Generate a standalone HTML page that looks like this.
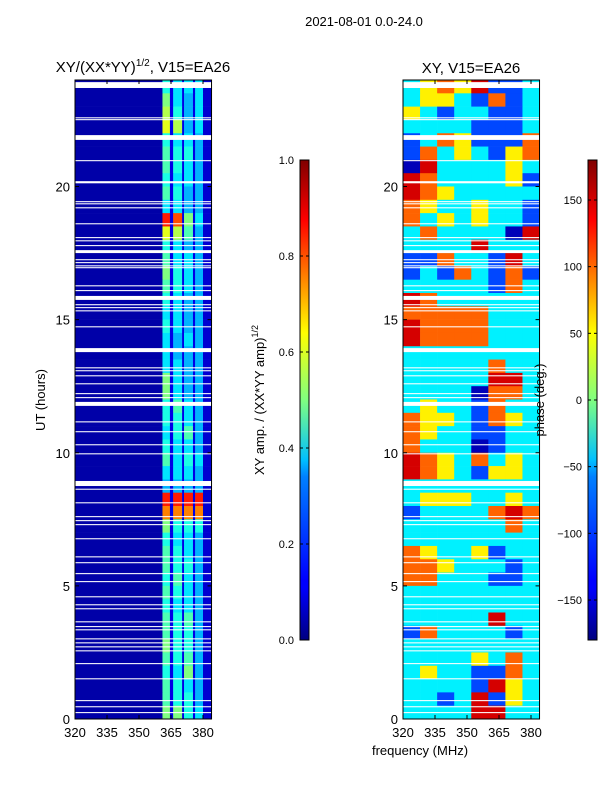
<!DOCTYPE html>
<html><head><meta charset="utf-8"><style>
body{margin:0;background:#fff}
svg{display:block;font-family:"Liberation Sans",sans-serif}
</style></head><body>
<svg id="fig" width="600" height="800" viewBox="0 0 600 800" xmlns="http://www.w3.org/2000/svg">
<defs>
<linearGradient id="jetv" x1="0" y1="1" x2="0" y2="0">
<stop offset="0" stop-color="#000080"/><stop offset="0.11" stop-color="#0000ff"/><stop offset="0.125" stop-color="#0000ff"/><stop offset="0.34" stop-color="#0080ff"/><stop offset="0.375" stop-color="#00c0ff"/><stop offset="0.5" stop-color="#80ff80"/><stop offset="0.64" stop-color="#ffff00"/><stop offset="0.875" stop-color="#ff0000"/><stop offset="1" stop-color="#800000"/>
</linearGradient>
</defs>
<text x="364" y="26" font-size="13" text-anchor="middle">2021-08-01 0.0-24.0</text>
<text x="143" y="72" font-size="15" text-anchor="middle">XY/(XX*YY)<tspan dy="-6" font-size="10">1/2</tspan><tspan dy="6">, V15=EA26</tspan></text>
<text x="471" y="73" font-size="15" text-anchor="middle">XY, V15=EA26</text>
<text transform="translate(45,400) rotate(-90)" font-size="13" text-anchor="middle">UT (hours)</text>
<text x="420" y="755" font-size="13" text-anchor="middle">frequency (MHz)</text>
<text transform="translate(264,400) rotate(-90)" font-size="13" text-anchor="middle">XY amp. / (XX*YY amp)<tspan dy="-6" font-size="9">1/2</tspan></text>
<g id="left"></g>
<g id="right"></g>
<text transform="translate(544,400) rotate(-90)" font-size="13" text-anchor="middle">phase (deg.)</text>
<g id="cbars"></g>
</svg>
<script>
// ---- data ----
const ampBandFreqs = [320, 361, 364.5, 366, 370.2, 371.1, 375.3, 376.3, 380, 384];
const ampBg = [0.04, 0.1, 0.1, 0.1, 0.08];
const ampBands = [
[.4,.35,.35,.35],[.5,.35,.3,.35],[.55,.4,.3,.35],[.6,.55,.3,.35],[.4,.35,.35,.3],[.45,.4,.4,.3],
[.45,.4,.35,.3],[.4,.35,.35,.3],[.45,.4,.3,.3],[.35,.35,.3,.3],[.85,.8,.5,.35],[.6,.55,.45,.3],
[.4,.35,.3,.3],[.45,.35,.35,.3],[.5,.4,.35,.3],[.45,.4,.35,.3],[.4,.35,.3,.3],[.35,.35,.3,.3],
[.4,.35,.3,.3],[.35,.3,.35,.3],[.35,.3,.3,.3],[.35,.35,.3,.3],[.5,.35,.3,.3],[.5,.35,.3,.3],
[.4,.45,.35,.3],[.4,.4,.35,.3],[.35,.4,.45,.3],[.4,.35,.35,.3],[.45,.35,.4,.35],[.35,.35,.35,.3],
[.3,.3,.3,.3],[.85,.85,.85,.85],[.75,.75,.75,.75],[.5,.4,.4,.4],[.4,.35,.35,.3],[.45,.4,.35,.3],
[.45,.4,.4,.3],[.4,.45,.35,.3],[.45,.4,.35,.3],[.4,.35,.35,.3],[.45,.4,.45,.3],[.45,.4,.4,.3],
[.5,.4,.4,.3],[.45,.4,.45,.3],[.4,.35,.5,.3],[.45,.4,.35,.3],[.45,.4,.4,.3],[.5,.5,.4,.35]];
const phaseFreqs = [320, 328, 336, 344, 352, 360, 368, 376, 384];
const B=-160,b=-110,c=-50,y=50,o=100,r=150;
const phaseRows = [
[c,y,o,y,r,b,b,c],[c,y,y,c,b,o,b,c],[y,c,b,c,c,b,b,c],[c,c,c,c,b,b,b,c],[b,c,o,y,b,b,b,o],[b,o,c,y,c,b,y,o],
[B,r,c,c,c,c,y,c],[r,o,c,c,c,c,y,b],[r,o,y,c,c,c,c,c],[o,y,c,c,y,c,c,b],[o,c,y,c,y,c,c,b],[c,o,c,c,c,c,B,r],
[c,c,c,c,r,c,c,c],[b,b,o,c,c,b,r,c],[b,c,b,o,c,b,o,b],[c,c,c,c,c,b,o,c],[r,o,c,c,c,c,c,c],[o,o,o,o,o,c,c,c],
[r,o,o,o,o,c,c,c],[r,o,o,o,o,c,c,c],[c,c,c,c,c,c,c,c],[c,c,c,c,c,o,c,c],[c,c,c,c,c,r,r,c],[c,c,c,c,B,o,o,c],
[c,y,c,c,b,o,c,c],[o,y,y,c,b,o,y,c],[o,y,c,c,b,b,c,c],[o,c,c,c,B,b,c,c],[r,o,y,c,o,c,y,c],[r,o,y,c,b,y,y,c],
[c,c,c,c,c,c,c,c],[c,y,y,y,c,c,y,c],[b,c,c,c,c,o,r,o],[c,c,c,c,c,c,o,c],[c,c,c,c,c,c,c,c],[o,y,c,c,y,b,c,c],
[o,o,y,c,c,c,b,c],[o,o,c,c,c,b,b,c],[c,c,c,c,c,c,c,c],[c,c,c,c,c,c,c,c],[c,c,c,c,c,r,c,c],[b,o,c,c,c,c,b,c],
[c,c,c,c,c,c,c,c],[c,c,c,c,y,c,o,c],[c,y,c,c,b,b,o,c],[c,c,c,c,b,r,y,c],[c,c,b,c,r,b,y,c],[c,c,c,c,r,r,c,c]];
const flagStart = [23.70,22.56,22.49,21.75,20.95,20.12,19.41,19.33,19.18,18.58,18.06,17.94,17.76,17.50,17.23,17.12,17.00,16.93,16.25,16.07,15.74,15.54,15.43,15.31,14.71,13.78,13.17,13.06,12.87,12.57,12.20,12.05,11.76,11.14,10.77,10.28,9.94,8.75,8.61,8.10,7.58,7.43,7.28,6.75,6.07,5.85,5.44,5.14,4.57,4.27,4.12,3.63,3.45,3.33,2.99,2.84,2.69,2.54,2.06,1.49,0.67,0.44,0.22];
const flagEnd   = [23.92,22.60,22.53,21.93,20.99,20.20,19.45,19.37,19.22,18.62,18.10,17.98,17.80,17.61,17.27,17.16,17.04,16.97,16.29,16.11,15.89,15.58,15.47,15.35,14.75,13.93,13.21,13.10,12.91,12.61,12.24,12.09,11.91,11.18,10.81,10.32,9.98,8.94,8.65,8.14,7.62,7.47,7.32,6.79,6.11,5.89,5.48,5.18,4.61,4.31,4.16,3.67,3.49,3.37,3.03,2.88,2.73,2.58,2.10,1.53,0.71,0.48,0.26];
const xTicks = [320,335,350,365,380];
const yTicks = [0,5,10,15,20];
const ampTicks = [0.0,0.2,0.4,0.6,0.8,1.0];
const phaseTicks = [-150,-100,-50,0,50,100,150];

// ---- helpers ----
const NS="http://www.w3.org/2000/svg";
function el(tag, attrs, parent){const e=document.createElementNS(NS,tag);for(const k in attrs)e.setAttribute(k,attrs[k]);parent.appendChild(e);return e;}
function jet(v){v=Math.max(0,Math.min(1,v));const cl=t=>Math.round(255*Math.max(0,Math.min(1,t)));
 return `rgb(${cl(1.5-Math.abs(4*v-3))},${cl(1.5-Math.abs(4*v-2))},${cl(1.5-Math.abs(4*v-1))})`;}
const ppm=128/60;
const xL=f=>75+(f-320)*ppm, xR=f=>403+(f-320)*ppm;
const yH=h=>719-h*26.625;
const nRows=48, rowH=24/nRows;

function axesFrame(g,xs,name){
 el('rect',{x:xs(320),y:yH(24),width:xs(384)-xs(320),height:yH(0)-yH(24),fill:'none',stroke:'#000','stroke-width':1},g);
 xTicks.forEach(t=>{const x=xs(t);
  el('line',{x1:x,y1:yH(0),x2:x,y2:yH(0)-4,stroke:'#000'},g);
  el('line',{x1:x,y1:yH(24),x2:x,y2:yH(24)+4,stroke:'#000'},g);
  const tx=el('text',{x:x,y:737,'font-size':13,'text-anchor':'middle'},g);tx.textContent=t;
  
  
 });
 yTicks.forEach(t=>{const yy=yH(t);
  el('line',{x1:xs(320),y1:yy,x2:xs(320)+4,y2:yy,stroke:'#000'},g);
  el('line',{x1:xs(384),y1:yy,x2:xs(384)-4,y2:yy,stroke:'#000'},g);
  const tx=el('text',{x:xs(320)-5,y:yy+5,'font-size':13,'text-anchor':'end'},g);tx.textContent=t;
  
  
 });
}
function flags(g,xs){
 flagStart.forEach((s,i)=>{
  const rr=el('rect',{x:xs(320),y:yH(flagEnd[i]),width:xs(384)-xs(320),height:Math.max(1,yH(s)-yH(flagEnd[i])),fill:'#fff'},g);
  
  
 });
}

// left amplitude panel
const L=document.getElementById('left');
ampBands.forEach((row,i)=>{
 const h1=24-i*rowH, h0=h1-rowH;
 const vals=[ampBg[0],row[0],ampBg[1],row[1],ampBg[2],row[2],ampBg[3],row[3],ampBg[4]];
 vals.forEach((v,j)=>{
  const x0=xL(ampBandFreqs[j]), x1=xL(ampBandFreqs[j+1]);
  const rr=el('rect',{x:x0,y:yH(h1),width:x1-x0+0.3,height:yH(h0)-yH(h1)+0.3,fill:jet(v)},L);
  
  
 });
});
flags(L,xL);
axesFrame(L,xL,'left');

// right phase panel
const R=document.getElementById('right');
phaseRows.forEach((row,i)=>{
 const h1=24-i*rowH, h0=h1-rowH;
 row.forEach((v,j)=>{
  const x0=xR(phaseFreqs[j]), x1=xR(phaseFreqs[j+1]);
  const rr=el('rect',{x:x0,y:yH(h1),width:x1-x0+0.3,height:yH(h0)-yH(h1)+0.3,fill:jet((v+180)/360)},R);
  
  
 });
});
flags(R,xR);
axesFrame(R,xR,'right');

// colorbars
const C=document.getElementById('cbars');
function cbar(x,ticks,vmin,vmax,fmt,name){
 const r=el('rect',{x:x,y:160,width:9,height:480,fill:'url(#jetv)',stroke:'#000','stroke-width':1},C);
 
 
 ticks.forEach(t=>{const yy=640-(t-vmin)/(vmax-vmin)*480;
  el('line',{x1:x,y1:yy,x2:x+3,y2:yy,stroke:'#000'},C);
  el('line',{x1:x+9,y1:yy,x2:x+6,y2:yy,stroke:'#000'},C);
  const tx=el('text',{x:x-6,y:yy+4,'font-size':11,'text-anchor':'end'},C);
  tx.textContent=fmt(t);
  
  
 });
}
cbar(300,ampTicks,0,1,t=>t.toFixed(1),'amp-colorbar');
cbar(588,phaseTicks,-180,180,t=>t<0?'\u2212'+(-t):''+t,'phase-colorbar');
</script>
</body></html>
